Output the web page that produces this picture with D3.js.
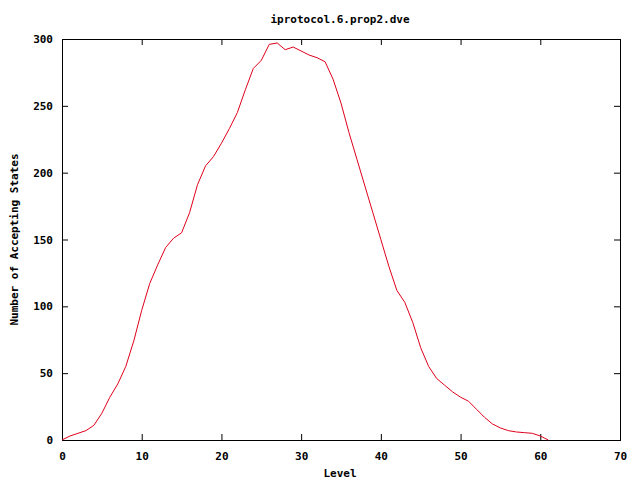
<!DOCTYPE html>
<html>
<head>
<meta charset="utf-8">
<script src="https://cdn.jsdelivr.net/npm/d3@7"></script>
<style>
  body { margin: 0; background: #fff; }
  text { font-family: "DejaVu Sans Mono", monospace; font-weight: bold; font-size: 11px; fill: #000; }
</style>
</head>
<body>
<div id="chart"></div>
<script>
// accepting states per BFS level
var levels = d3.range(0, 62);
var states = [0, 3, 5, 7, 11, 20, 32, 42, 55, 74,
              97, 117, 131, 144, 151, 155, 170, 191, 205, 212,
              222, 233, 245, 262, 278, 284, 296, 297, 292, 294,
              291, 288, 286, 283, 270, 252, 230, 210, 190, 170,
              150, 130, 112, 103, 88, 69, 55, 46, 41, 36,
              32, 29, 23, 17, 12, 9, 7, 6, 5.5, 5,
              3, 0];
var xTicks = [0, 10, 20, 30, 40, 50, 60, 70];
var yTicks = [0, 50, 100, 150, 200, 250, 300];

var W = 640, H = 480;
var margin = {top: 39, right: 20, bottom: 40, left: 62},
    width = W - margin.left - margin.right,
    height = H - margin.top - margin.bottom;

var svg = d3.select('#chart').append('svg')
    .attr('width', W)
    .attr('height', H);

var g = svg.append('g')
    .attr('transform', 'translate(' + margin.left + ',' + margin.top + ')');

var x = d3.scaleLinear().domain([0, 70]).range([0, width]);
var y = d3.scaleLinear().domain([0, 300]).range([height, 0]);

// inward ticks on all four sides (gnuplot style)
g.append('g')
    .attr('transform', 'translate(0,' + height + ')')
    .call(d3.axisBottom(x).tickValues(xTicks).tickSize(-6).tickPadding(12));
g.append('g')
    .call(d3.axisTop(x).tickValues(xTicks).tickSize(-6).tickFormat(''));
g.append('g')
    .call(d3.axisLeft(y).tickValues(yTicks).tickSize(-6).tickPadding(9));
g.append('g')
    .attr('transform', 'translate(' + width + ',0)')
    .call(d3.axisRight(y).tickValues(yTicks).tickSize(-6).tickFormat(''));

g.selectAll('.domain').remove();
g.selectAll('.tick line').attr('stroke', '#000');
g.selectAll('.tick text').style('font-size', '11px');

g.append('rect')
    .attr('width', width)
    .attr('height', height)
    .attr('fill', 'none')
    .attr('stroke', '#000')
    .attr('stroke-width', 1)
    .attr('shape-rendering', 'crispEdges');

var line = d3.line()
    .x(function(d, i) { return x(levels[i]); })
    .y(function(d) { return y(d); });

g.append('path')
    .datum(states)
    .attr('d', line)
    .attr('fill', 'none')
    .attr('stroke', '#e0001a')
    .attr('stroke-width', 1);

// title and axis labels
svg.append('text')
    .attr('x', 340).attr('y', 23)
    .attr('text-anchor', 'middle')
    .text('iprotocol.6.prop2.dve');

svg.append('text')
    .attr('x', 340).attr('y', 477)
    .attr('text-anchor', 'middle')
    .text('Level');

svg.append('text')
    .attr('transform', 'translate(18,' + (margin.top + height / 2) + ') rotate(-90)')
    .attr('text-anchor', 'middle')
    .text('Number of Accepting States');
</script>
</body>
</html>
